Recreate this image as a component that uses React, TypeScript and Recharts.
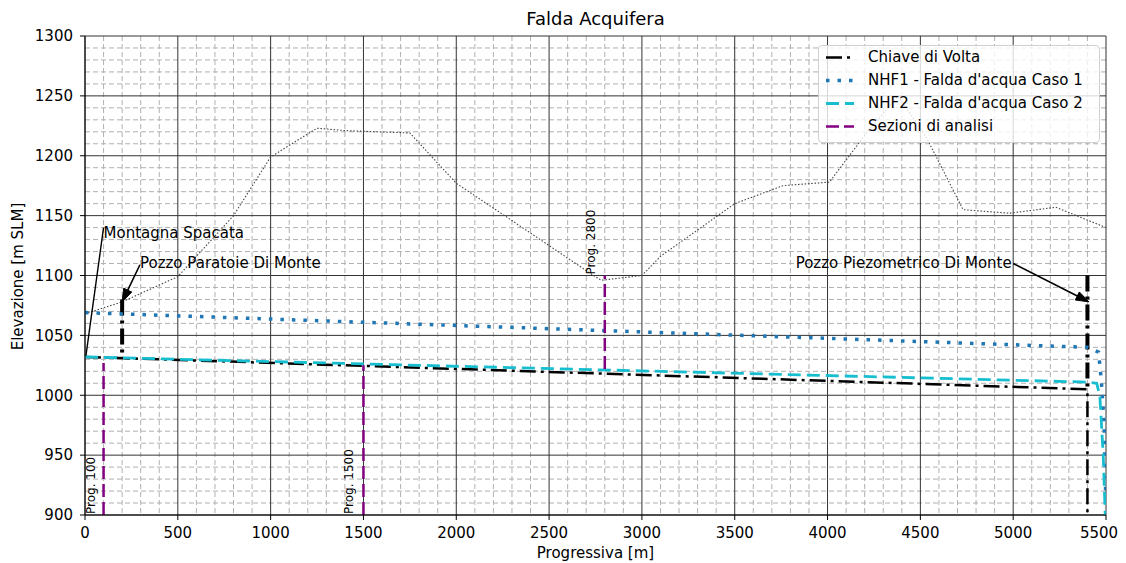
import React from "react";
import { LineChart, Line, XAxis, YAxis, CartesianGrid, ReferenceLine, ReferenceDot } from "recharts";

const FONT = "DejaVu Sans";

// axes
const xTicks = [0, 500, 1000, 1500, 2000, 2500, 3000, 3500, 4000, 4500, 5000, 5500];
const yTicks = [900, 950, 1000, 1050, 1100, 1150, 1200, 1250, 1300];
const xMinor = Array.from({ length: 56 }, (_, i) => i * 100).filter((v) => v % 500 !== 0);
const yMinor = Array.from({ length: 41 }, (_, i) => 900 + i * 10).filter((v) => v % 50 !== 0);

// ground profile (dotted)
const terrainX = [0, 200, 500, 800, 1000, 1250, 1400, 1750, 2000, 2270, 2720, 2780, 3000, 3100, 3500, 3760, 4010, 4210, 4380, 4530, 4730, 4980, 5230, 5500];
const terrainY = [1068, 1078, 1099, 1150, 1199, 1223, 1221, 1219, 1177, 1149, 1102, 1096, 1100, 1116, 1160, 1175, 1178, 1219, 1250, 1216, 1155, 1152, 1157, 1140];

// Chiave di Volta
const chiaveX = [0, 5400, 5400];
const chiaveY = [1032, 1005, 900];

// NHF1
const nhf1X = [0, 5400, 5460, 5475, 5490, 5500];
const nhf1Y = [1069, 1040, 1036, 1012, 975, 905];

// NHF2
const nhf2X = [0, 5400, 5450, 5467, 5485, 5496];
const nhf2Y = [1032, 1011, 1010, 999, 950, 900];

// wells (drawn thick, same style as Chiave di Volta)
const wellX = [200, 5400];
const wellTop = [1080, 1100];
const wellBottom = [1031, 1005];

// sections
const sectionX = [100, 1500, 2800];
const sectionFrom = [900, 900, 1022];
const sectionTo = [1027, 1025, 1100];
const sectionLabels = ["Prog. 100", "Prog. 1500", "Prog. 2800"];
const sectionLabelX = [30, 1420, 2725];
const sectionLabelY = [900, 900, 1100];

// annotations
const noteLabels = ["Montagna Spacata", "Pozzo Paratoie Di Monte", "Pozzo Piezometrico Di Monte"];
const noteTextX = [100, 296, 4992];
const noteTextY = [1136, 1111, 1111];
const noteFromX = [100, 296, 5000];
const noteFromY = [1140, 1109, 1110];
const noteTipX = [5, 200, 5408];
const noteTipY = [1033, 1078, 1078];

const zip = (xs: number[], ys: number[]) => xs.map((x, i) => ({ x, y: ys[i] }));

const DASHDOT = "16 5 3 5";

const series = [
  { name: "Chiave di Volta", color: "#000000", dash: DASHDOT, width: 2.5 },
  { name: "NHF1 - Falda d'acqua Caso 1", color: "#1f77b4", dash: "3.5 8", width: 3.5 },
  { name: "NHF2 - Falda d'acqua Caso 2", color: "#17becf", dash: "13 6", width: 2.8 },
  { name: "Sezioni di analisi", color: "#800080", dash: "13 5", width: 2.5 },
];

function Arrow(props: any) {
  const { x1, y1, x2, y2, head } = props;
  if (!head) return <line x1={x1} y1={y1} x2={x2} y2={y2} stroke="#000" strokeWidth={1.4} />;
  const a = Math.atan2(y2 - y1, x2 - x1);
  const L = 13;
  const W = 4.5;
  const bx = x2 - L * Math.cos(a);
  const by = y2 - L * Math.sin(a);
  const pts = `${x2},${y2} ${bx - W * Math.sin(a)},${by + W * Math.cos(a)} ${bx + W * Math.sin(a)},${by - W * Math.cos(a)}`;
  return (
    <g>
      <line x1={x1} y1={y1} x2={bx} y2={by} stroke="#000" strokeWidth={1.6} />
      <polygon points={pts} fill="#000" stroke="#000" />
    </g>
  );
}

// last label would run past the page edge, nudge it inwards
function XTick(props: any) {
  const { x, y, payload } = props;
  const last = payload.value === xTicks[xTicks.length - 1];
  return (
    <text x={last ? x - 7 : x} y={y} dy="0.71em" textAnchor="middle" fontSize={15} fill="#000" fontFamily={FONT}>
      {payload.value}
    </text>
  );
}

function Legend() {
  return (
    <div
      style={{
        position: "absolute",
        left: 810,
        top: 37,
        width: 282,
        height: 98,
        boxSizing: "border-box",
        border: "1px solid #d0d0d0",
        borderRadius: 4,
        background: "rgba(255,255,255,0.8)",
        fontFamily: FONT,
        fontSize: 15,
        color: "#000",
      }}
    >
      {series.map((s) => (
        <div key={s.name} style={{ height: 23, lineHeight: "23px", position: "relative", whiteSpace: "nowrap" }}>
          <svg width={30} height={23} style={{ position: "absolute", left: 6, top: 0 }}>
            <line x1={1} y1={11.5} x2={29} y2={11.5} stroke={s.color} strokeWidth={s.width} strokeDasharray={s.dash} />
          </svg>
          <span style={{ position: "absolute", left: 49 }}>{s.name}</span>
        </div>
      ))}
    </div>
  );
}

export default function App() {
  return (
    <div style={{ position: "relative", width: 1110, height: 555, fontFamily: FONT }}>
      <div style={{ position: "absolute", left: 77, width: 1021, top: 1, textAlign: "center", fontSize: 18, lineHeight: "20px" }}>
        Falda Acquifera
      </div>
      <div
        style={{
          position: "absolute",
          left: 10 - 100,
          top: 269 - 9,
          width: 200,
          textAlign: "center",
          fontSize: 15,
          lineHeight: "17px",
          transform: "rotate(-90deg)",
        }}
      >
        Elevazione [m SLM]
      </div>
      <LineChart width={1110} height={547} margin={{ top: 28, right: 12, left: 0, bottom: 0 }} style={{ fontFamily: FONT }}>
        <CartesianGrid verticalValues={xMinor} horizontalValues={yMinor} stroke="#b0b0b0" strokeDasharray="5 3" />
        <CartesianGrid verticalValues={xTicks} horizontalValues={yTicks} stroke="#333" />
        <XAxis
          dataKey="x"
          type="number"
          domain={[0, 5500]}
          ticks={xTicks}
          interval={0}
          allowDataOverflow
          height={40}
          tickSize={5}
          tickMargin={7}
          axisLine={{ stroke: "#000" }}
          tickLine={{ stroke: "#000" }}
          tick={<XTick />}
        />
        <YAxis
          type="number"
          domain={[900, 1300]}
          ticks={yTicks}
          interval={0}
          allowDataOverflow
          width={77}
          tickSize={5}
          tickMargin={7}
          axisLine={{ stroke: "#000" }}
          tickLine={{ stroke: "#000" }}
          tick={{ fontSize: 15, fill: "#000" }}
        />
        <Line data={zip(terrainX, terrainY)} dataKey="y" type="linear" stroke="#444" strokeWidth={1.1} strokeDasharray="1.5 1.8" dot={false} isAnimationActive={false} />
        <Line data={zip(chiaveX, chiaveY)} dataKey="y" type="linear" stroke="#000" strokeWidth={2.5} strokeDasharray={DASHDOT} dot={false} isAnimationActive={false} />
        {wellX.map((x, i) => (
          <Line key={"w" + i} data={[{ x, y: wellTop[i] }, { x, y: wellBottom[i] }]} dataKey="y" type="linear" stroke="#000" strokeWidth={4} strokeDasharray={DASHDOT} dot={false} isAnimationActive={false} />
        ))}
        <Line data={zip(nhf1X, nhf1Y)} dataKey="y" type="linear" stroke="#1f77b4" strokeWidth={3.5} strokeDasharray="3.5 8" dot={false} isAnimationActive={false} />
        <Line data={zip(nhf2X, nhf2Y)} dataKey="y" type="linear" stroke="#17becf" strokeWidth={2.8} strokeDasharray="13 6" dot={false} isAnimationActive={false} />
        {sectionX.map((x, i) => (
          <Line key={"s" + i} data={[{ x, y: sectionFrom[i] }, { x, y: sectionTo[i] }]} dataKey="y" type="linear" stroke="#800080" strokeWidth={2.5} strokeDasharray="13 5" dot={false} isAnimationActive={false} />
        ))}
        {sectionLabels.map((t, i) => (
          <ReferenceDot
            key={"sl" + i}
            x={sectionLabelX[i]}
            y={sectionLabelY[i]}
            r={0}
            shape={(p: any) => (
              <text x={p.cx} y={p.cy - 1} transform={`rotate(-90 ${p.cx} ${p.cy - 1})`} textAnchor="start" dy="0.35em" fontSize={12} fill="#000" fontFamily={FONT}>
                {t}
              </text>
            )}
          />
        ))}
        {noteLabels.map((t, i) => (
          <ReferenceLine
            key={"a" + i}
            segment={[{ x: noteFromX[i], y: noteFromY[i] }, { x: noteTipX[i], y: noteTipY[i] }]}
            shape={(p: any) => <Arrow {...p} head={i > 0} />}
          />
        ))}
        {noteLabels.map((t, i) => (
          <ReferenceDot
            key={"n" + i}
            x={noteTextX[i]}
            y={noteTextY[i]}
            r={0}
            shape={(p: any) => (
              <text x={p.cx} y={p.cy} textAnchor={i === 2 ? "end" : "start"} dy="0.35em" fontSize={15} fill="#000" fontFamily={FONT}>
                {t}
              </text>
            )}
          />
        ))}
      </LineChart>
      <div style={{ position: "absolute", left: 77, width: 1021, top: 538, textAlign: "center", fontSize: 15, lineHeight: "15px" }}>
        Progressiva [m]
      </div>
      <Legend />
    </div>
  );
}
